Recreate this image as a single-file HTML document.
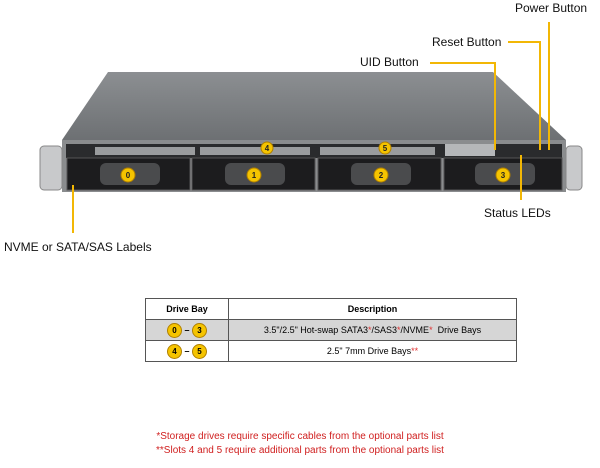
<!DOCTYPE html><html><head><style>
body{margin:0;width:600px;height:468px;background:#fff;font-family:"Liberation Sans",sans-serif;position:relative;overflow:hidden}
.t{position:absolute;font-size:12px;color:#111;white-space:nowrap}
.l{position:absolute;background:#f2b705}
table{position:absolute;left:145px;top:298px;width:372px;border-collapse:collapse;font-size:9px}
td{border:1px solid #555;text-align:center;height:20px;padding:0}
.c{display:inline-block;width:13px;height:13px;border-radius:50%;background:#f5c400;border:1px solid #b08000;font-size:8px;font-weight:bold;line-height:13px;text-align:center;vertical-align:middle}
.r{color:#e03030}
.fn{position:absolute;left:0;width:600px;text-align:center;font-size:10px;color:#d02020}
</style></head><body>
<svg width="600" height="468" style="position:absolute;left:0;top:0">
<defs><linearGradient id="g" x1="0" y1="0" x2="0" y2="1"><stop offset="0" stop-color="#8c8f92"/><stop offset="1" stop-color="#6d7073"/></linearGradient></defs>
<polygon points="108,72 493,72 566,140 62,140" fill="url(#g)"/>
<rect x="62" y="140" width="504" height="52" fill="#8a8c8e"/>
<rect x="40" y="146" width="22" height="44" rx="4" fill="#c8c9cb" stroke="#888"/>
<rect x="566" y="146" width="16" height="44" rx="4" fill="#c8c9cb" stroke="#888"/>
<rect x="66" y="144" width="496" height="14" fill="#2a2b2d"/>
<g fill="#9a9c9e">
<rect x="200" y="147" width="110" height="8"/><rect x="320" y="147" width="115" height="8"/><rect x="95" y="147" width="100" height="8"/>
</g>
<rect x="445" y="144" width="50" height="12" fill="#b5b7b9"/>
<g fill="#1c1c1e" stroke="#555">
<rect x="67" y="158" width="123" height="32"/><rect x="192" y="158" width="123" height="32"/><rect x="318" y="158" width="123" height="32"/><rect x="444" y="158" width="118" height="32"/>
</g>
<g fill="#4a4b4d">
<rect x="100" y="163" width="60" height="22" rx="6"/><rect x="225" y="163" width="60" height="22" rx="6"/><rect x="351" y="163" width="60" height="22" rx="6"/><rect x="475" y="163" width="60" height="22" rx="6"/>
</g>
<g fill="#f5c400" stroke="#b08000"><circle cx="128" cy="175" r="7"/><circle cx="254" cy="175" r="7"/><circle cx="381" cy="175" r="7"/><circle cx="503" cy="175" r="7"/><circle cx="267" cy="148" r="6"/><circle cx="385" cy="148" r="6"/></g>
<g font-size="8" font-weight="bold" text-anchor="middle" fill="#222"><text x="128" y="178">0</text><text x="254" y="178">1</text><text x="381" y="178">2</text><text x="503" y="178">3</text><text x="267" y="151">4</text><text x="385" y="151">5</text></g>
</svg>
<div class="t" style="left:515px;top:1px">Power Button</div>
<div class="t" style="left:432px;top:35px">Reset Button</div>
<div class="t" style="left:360px;top:55px">UID Button</div>
<div class="t" style="left:484px;top:206px">Status LEDs</div>
<div class="t" style="left:4px;top:240px">NVME or SATA/SAS Labels</div>
<div class="l" style="left:548px;top:22px;width:2px;height:128px"></div>
<div class="l" style="left:508px;top:41px;width:33px;height:2px"></div>
<div class="l" style="left:539px;top:41px;width:2px;height:109px"></div>
<div class="l" style="left:430px;top:62px;width:66px;height:2px"></div>
<div class="l" style="left:494px;top:62px;width:2px;height:88px"></div>
<div class="l" style="left:520px;top:155px;width:2px;height:45px"></div>
<div class="l" style="left:72px;top:185px;width:2px;height:48px"></div>
<table>
<tr style="font-weight:bold"><td style="width:82px">Drive Bay</td><td>Description</td></tr>
<tr style="background:#d6d6d6"><td><span class="c">0</span> <b>–</b> <span class="c">3</span></td><td>3.5"/2.5" Hot-swap SATA3<span class="r">*</span>/SAS3<span class="r">*</span>/NVME<span class="r">*</span>&nbsp; Drive Bays</td></tr>
<tr><td><span class="c">4</span> <b>–</b> <span class="c">5</span></td><td>2.5" 7mm Drive Bays<span class="r">**</span></td></tr>
</table>
<div class="fn" style="top:431px">*Storage drives require specific cables from the optional parts list</div>
<div class="fn" style="top:445px">**Slots 4 and 5 require additional parts from the optional parts list</div>
</body></html>
